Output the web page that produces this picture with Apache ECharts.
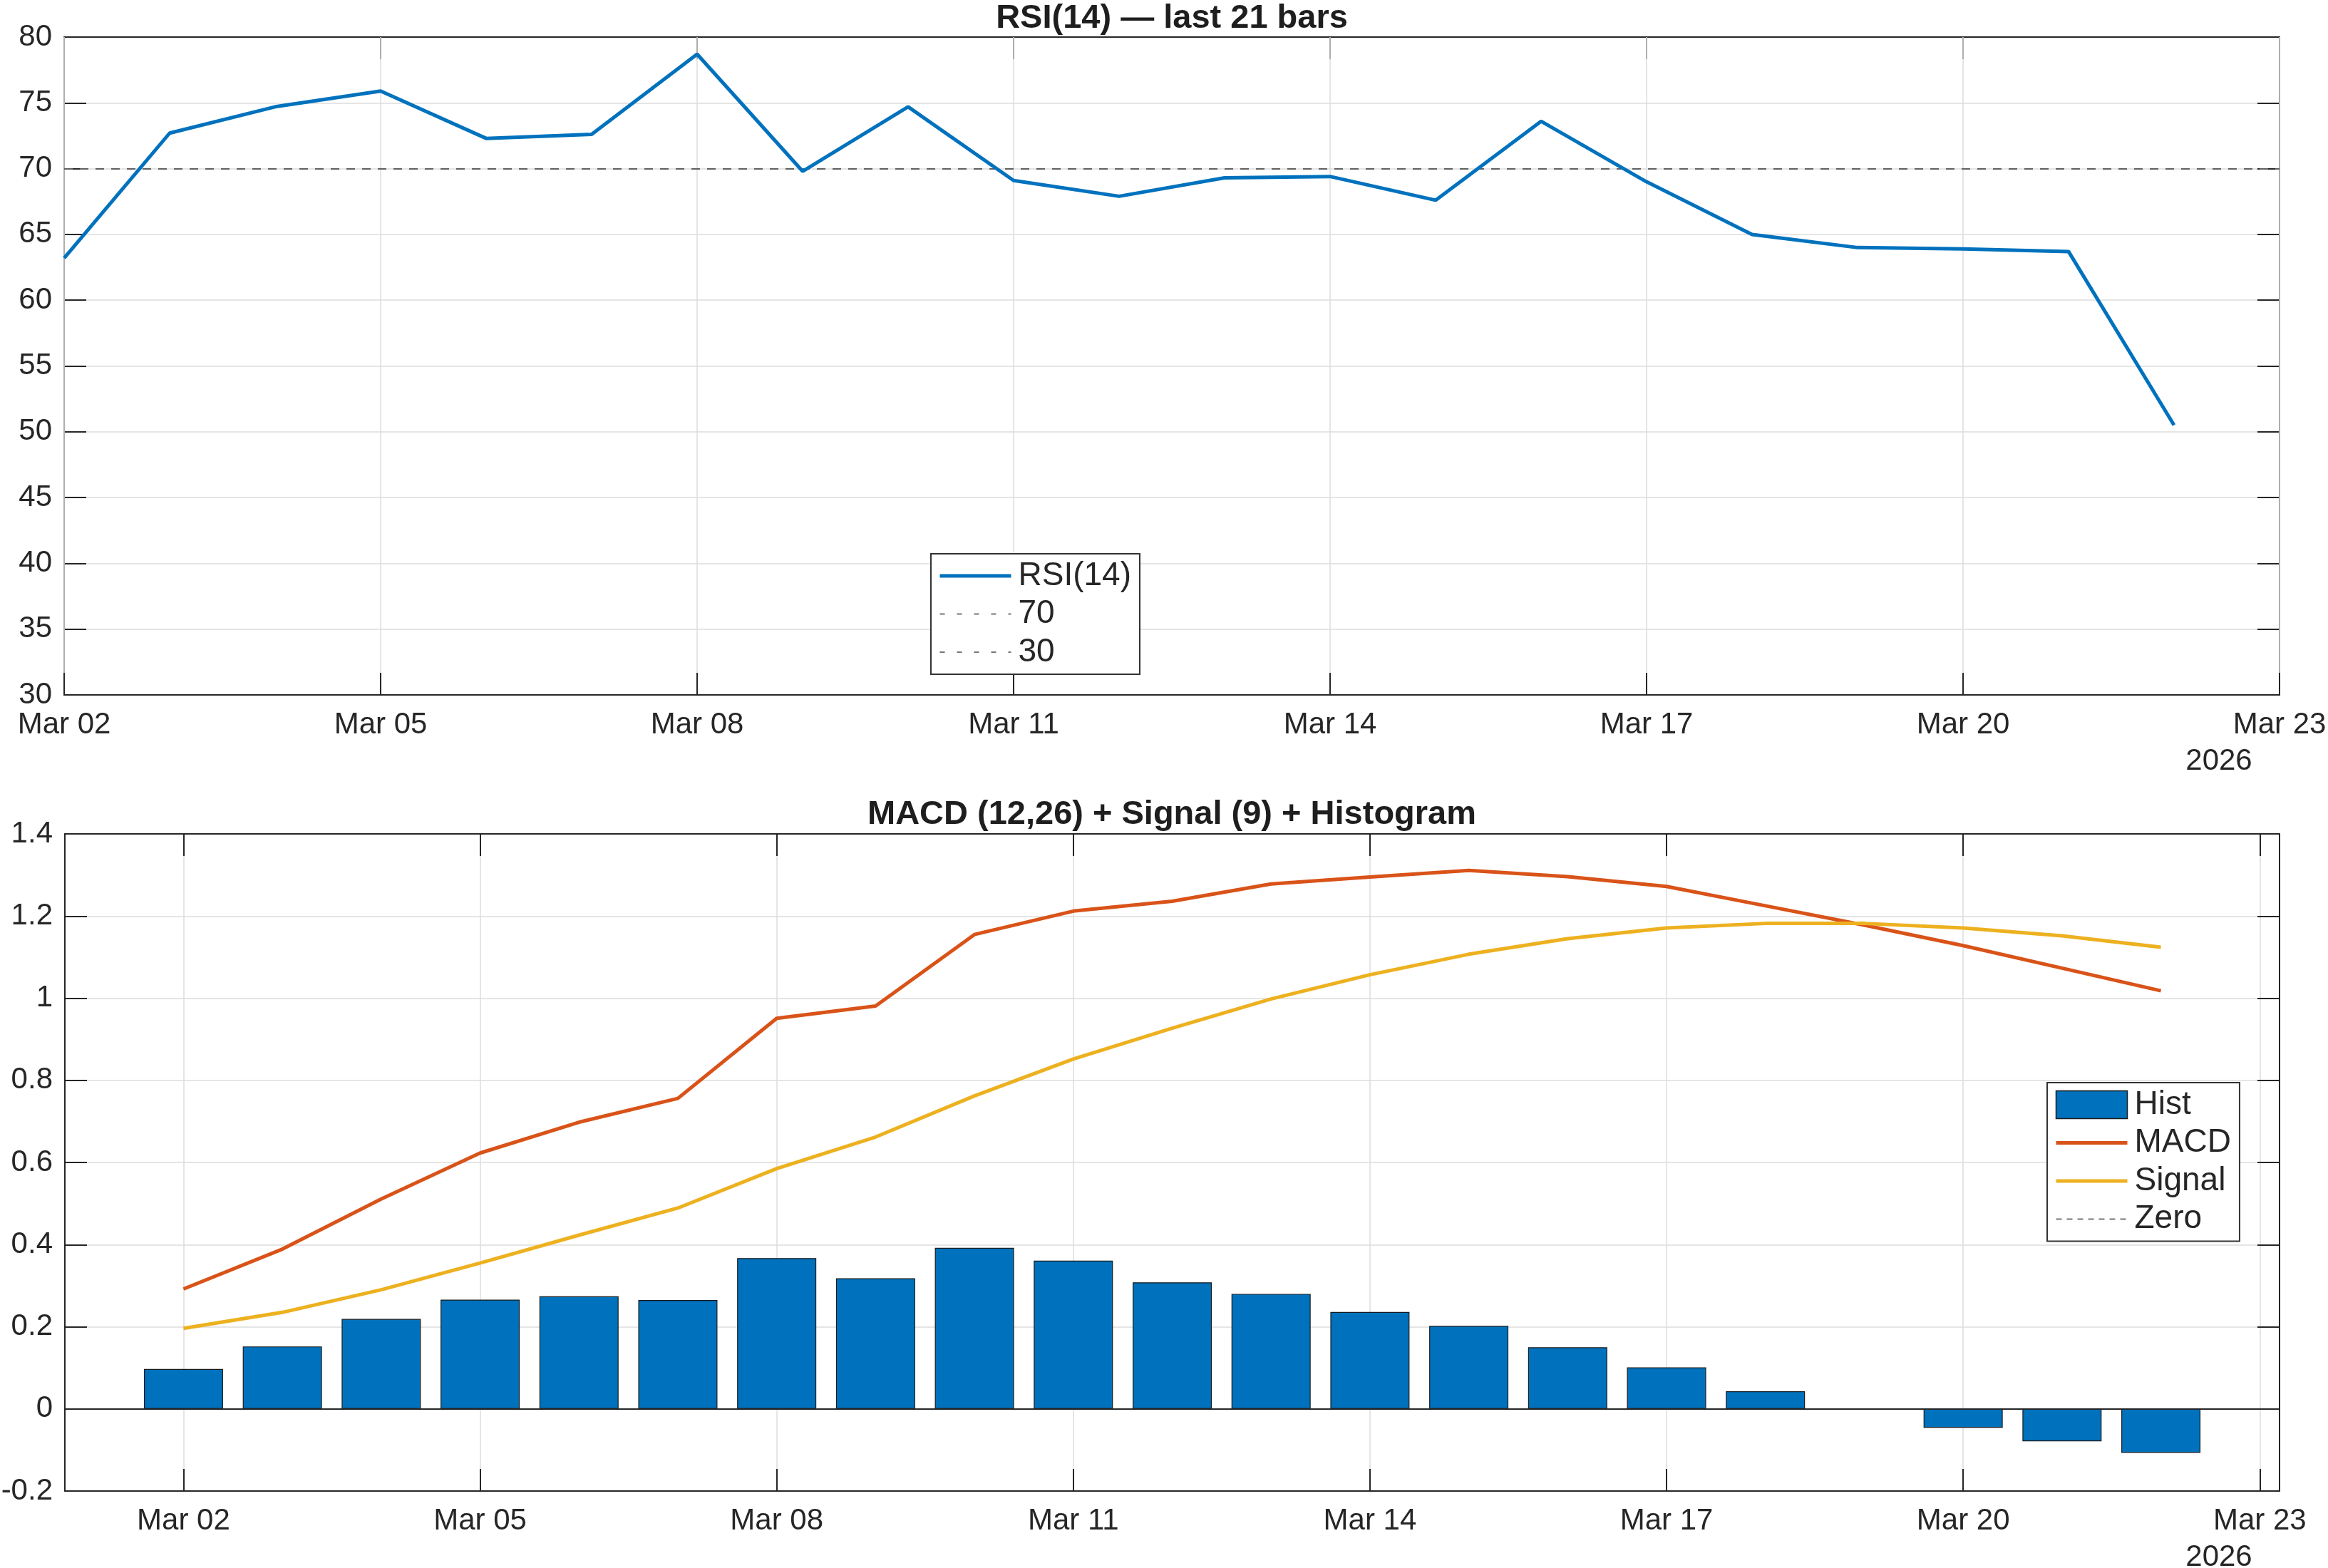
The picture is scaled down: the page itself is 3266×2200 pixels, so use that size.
<!DOCTYPE html>
<html>
<head>
<meta charset="utf-8">
<title>RSI(14) and MACD</title>
<script src="https://cdn.jsdelivr.net/npm/echarts@6/dist/echarts.min.js"></script>
<style>
  html, body { margin: 0; padding: 0; background: #fff; }
  #main { width: 3266px; height: 2200px; }
</style>
</head>
<body>
<div id="main"></div>
<script>
// last 21 daily bars, Mar 02 .. Mar 22 (2026)
var dates = ["Mar 02", "Mar 03", "Mar 04", "Mar 05", "Mar 06", "Mar 07", "Mar 08",
             "Mar 09", "Mar 10", "Mar 11", "Mar 12", "Mar 13", "Mar 14", "Mar 15",
             "Mar 16", "Mar 17", "Mar 18", "Mar 19", "Mar 20", "Mar 21", "Mar 22"];
var rsi = [63.2, 72.7, 74.7, 75.9, 72.3, 72.6, 78.7, 69.8, 74.7, 69.1, 67.9,
           69.3, 69.4, 67.6, 73.6, 69.0, 65.0, 64.0, 63.9, 63.7, 50.5];
var macd = [0.292, 0.389, 0.511, 0.623, 0.698, 0.756, 0.951, 0.981, 1.155, 1.212, 1.236,
            1.278, 1.295, 1.311, 1.296, 1.272, 1.225, 1.178, 1.128, 1.073, 1.018];
var signal = [0.196, 0.235, 0.290, 0.355, 0.423, 0.489, 0.585, 0.662, 0.762, 0.852, 0.927,
              0.998, 1.057, 1.107, 1.145, 1.171, 1.182, 1.182, 1.171, 1.152, 1.124];
var hist = [0.097, 0.152, 0.219, 0.266, 0.274, 0.265, 0.367, 0.318, 0.392, 0.361, 0.308,
            0.280, 0.236, 0.202, 0.150, 0.101, 0.043, -0.001, -0.046, -0.079, -0.107];
var rsiLevels = [70, 30];
var dateTicks = [0, 3, 6, 9, 12, 15, 18, 21];   // day offsets from Mar 02
var yearLabel = "2026";

var FONT = '"Liberation Sans", Arial, Helvetica, sans-serif';
var INK = '#262626';
var GRIDC = '#dcdcdc';
var BLUE = '#0072BD', ORANGE = '#D95319', YELLOW = '#EDB120', GREY = '#606060';

function dayLabel(v) {
  var d = Math.round(v) + 2;
  return 'Mar ' + (d < 10 ? '0' + d : d);
}
function pairs(arr) {
  return arr.map(function (v, i) { return [i, v]; });
}

var tickStyle = { show: true, inside: true, length: 31, lineStyle: { color: INK, width: 2 } };
var lineStyleAxis = { show: true, onZero: false, lineStyle: { color: INK, width: 2 } };
var labelStyle = { color: INK, fontSize: 42, fontFamily: FONT };

function makeX(gi, min, max, custom, top) {
  var ax = {
    type: 'value', gridIndex: gi, min: min, max: max,
    position: top ? 'top' : 'bottom',
    axisLine: lineStyleAxis,
    axisTick: Object.assign({}, tickStyle),
    axisLabel: top ? { show: false } :
      Object.assign({ margin: 21, formatter: dayLabel, showMinLabel: true, showMaxLabel: true }, labelStyle),
    splitLine: top ? { show: false } : { show: true, lineStyle: { color: GRIDC, width: 1.5 } }
  };
  if (custom) {
    ax.axisTick.customValues = dateTicks;
    if (!top) ax.axisLabel.customValues = dateTicks;
  } else {
    ax.interval = 3;
  }
  return ax;
}
function makeY(gi, min, max, step, right) {
  return {
    type: 'value', gridIndex: gi, min: min, max: max, interval: step,
    position: right ? 'right' : 'left',
    axisLine: lineStyleAxis,
    axisTick: tickStyle,
    axisLabel: right ? { show: false } : Object.assign({ margin: 17 }, labelStyle),
    splitLine: right ? { show: false } : { show: true, lineStyle: { color: GRIDC, width: 1.5 } }
  };
}

// legend entries for lines: hide the default circle marker, keep the line sample
function lineEntry(name, color, width, dash) {
  return { name: name, itemStyle: { opacity: 0 },
           lineStyle: { color: color, width: width, type: dash || 'solid' } };
}

var legendBase = {
  orient: 'vertical',
  itemWidth: 100, itemHeight: 39, itemGap: 7.5,
  padding: [8, 12, 8, 10],
  backgroundColor: '#fff',
  borderColor: '#333333', borderWidth: 2,
  textStyle: { color: INK, fontSize: 46, fontFamily: FONT, lineHeight: 46, padding: [0, 0, 0, 5] },
  selectedMode: false
};

var rsiX = makeX(0, 0, 21, false, false);
rsiX.z = 3;   // box edge stays on top of the 30 level line, as in the original

var chart = echarts.init(document.getElementById('main'));

var option = {
  backgroundColor: '#fff',
  animation: false,
  title: [
    { text: 'RSI(14) — last 21 bars', left: 1644, top: 26, padding: 0,
      textAlign: 'center', textVerticalAlign: 'middle',
      textStyle: { fontSize: 47, fontWeight: 'bold', color: '#1e1e1e', fontFamily: FONT } },
    { text: 'MACD (12,26) + Signal (9) + Histogram', left: 1644, top: 1143, padding: 0,
      textAlign: 'center', textVerticalAlign: 'middle',
      textStyle: { fontSize: 47, fontWeight: 'bold', color: '#1e1e1e', fontFamily: FONT } }
  ],
  grid: [
    { left: 90, top: 52, width: 3108, height: 923, outerBoundsMode: 'none' },
    { left: 91, top: 1170, width: 3107, height: 922, outerBoundsMode: 'none' }
  ],
  xAxis: [
    rsiX,
    makeX(0, 0, 21, false, true),
    makeX(1, -1.2, 21.2, true, false),
    makeX(1, -1.2, 21.2, true, true)
  ],
  yAxis: [
    makeY(0, 30, 80, 5, false),
    makeY(0, 30, 80, 5, true),
    makeY(1, -0.2, 1.4, 0.2, false),
    makeY(1, -0.2, 1.4, 0.2, true)
  ],
  legend: [
    Object.assign({}, legendBase, { left: 1306, top: 777, data: [
      lineEntry('RSI(14)', BLUE, 5),
      lineEntry('70', '#777777', 2, [7, 17]),
      lineEntry('30', '#777777', 2, [7, 17])
    ] }),
    Object.assign({}, legendBase, { left: 2872, top: 1519, data: [
      { name: 'Hist', icon: 'rect', itemStyle: { color: BLUE, borderColor: '#1a1a1a', borderWidth: 1.5 } },
      lineEntry('MACD', ORANGE, 5),
      lineEntry('Signal', YELLOW, 5),
      lineEntry('Zero', '#777777', 2, [8, 7])
    ] })
  ],
  graphic: [
    { type: 'text', x: 3113, y: 1068, style: { text: yearLabel, font: '42px ' + FONT, fill: INK, align: 'center', verticalAlign: 'middle' } },
    { type: 'text', x: 3113, y: 2185, style: { text: yearLabel, font: '42px ' + FONT, fill: INK, align: 'center', verticalAlign: 'middle' } }
  ],
  series: [
    {
      name: 'RSI(14)', type: 'line', xAxisIndex: 0, yAxisIndex: 0,
      data: pairs(rsi), symbol: 'none', z: 4,
      lineStyle: { color: BLUE, width: 5 }, itemStyle: { color: BLUE }
    },
    {
      name: '70', type: 'line', xAxisIndex: 0, yAxisIndex: 0, data: [], symbol: 'none', z: 3.5,
      lineStyle: { color: GREY, width: 2, type: [12, 10] }, itemStyle: { color: GREY },
      markLine: { silent: true, symbol: ['none', 'none'], label: { show: false }, z: 3.5,
        lineStyle: { color: GREY, width: 2, type: [12, 10] },
        data: [{ yAxis: rsiLevels[0] }] }
    },
    {
      name: '30', type: 'line', xAxisIndex: 0, yAxisIndex: 0, data: [], symbol: 'none', z: 1,
      lineStyle: { color: GREY, width: 2, type: [12, 10] }, itemStyle: { color: GREY },
      markLine: { silent: true, symbol: ['none', 'none'], label: { show: false }, z: 1,
        lineStyle: { color: GREY, width: 2, type: [12, 10] },
        data: [{ yAxis: rsiLevels[1] }] }
    },
    {
      name: 'Hist', type: 'bar', xAxisIndex: 2, yAxisIndex: 2,
      data: pairs(hist), barWidth: 111, z: 2,
      itemStyle: { color: BLUE, borderColor: '#1a1a1a', borderWidth: 1.2 },
      markLine: { silent: true, symbol: ['none', 'none'], label: { show: false },
        lineStyle: { color: INK, width: 2, type: 'solid' },
        data: [{ yAxis: 0 }] }
    },
    {
      name: 'MACD', type: 'line', xAxisIndex: 2, yAxisIndex: 2,
      data: pairs(macd), symbol: 'none', z: 4,
      lineStyle: { color: ORANGE, width: 5 }, itemStyle: { color: ORANGE }
    },
    {
      name: 'Signal', type: 'line', xAxisIndex: 2, yAxisIndex: 2,
      data: pairs(signal), symbol: 'none', z: 4,
      lineStyle: { color: YELLOW, width: 5 }, itemStyle: { color: YELLOW }
    },
    {
      name: 'Zero', type: 'line', xAxisIndex: 2, yAxisIndex: 2, data: [], symbol: 'none', z: 1,
      lineStyle: { color: '#777777', width: 2, type: [8, 7] }, itemStyle: { color: '#777777' }
    }
  ]
};

chart.setOption(option);
window.addEventListener('resize', function () { chart.resize(); });
</script>
</body>
</html>
